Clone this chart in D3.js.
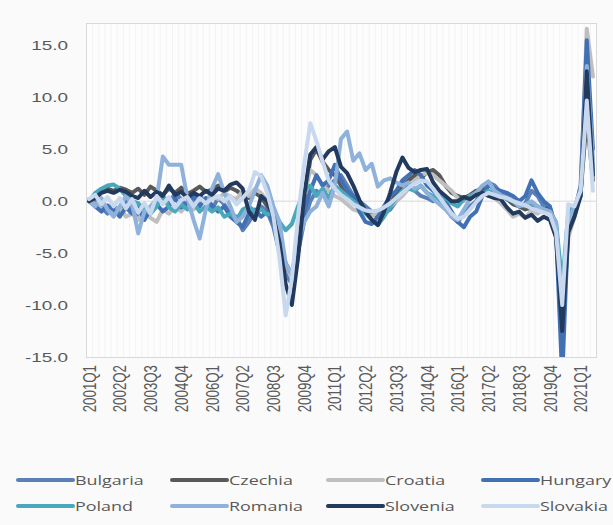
<!DOCTYPE html>
<html>
<head>
<meta charset="utf-8">
<script src="https://cdn.jsdelivr.net/npm/d3@7"></script>
<style>
  html, body { margin: 0; padding: 0; background: #fafafa; }
  svg { display: block; font-family: "Open Sans", "Liberation Sans", sans-serif; }
</style>
</head>
<body>
<svg id="chart" width="613" height="525"></svg>
<script>
const quarters = [
  "2001Q1","2001Q2","2001Q3","2001Q4","2002Q1","2002Q2","2002Q3","2002Q4",
  "2003Q1","2003Q2","2003Q3","2003Q4","2004Q1","2004Q2","2004Q3","2004Q4",
  "2005Q1","2005Q2","2005Q3","2005Q4","2006Q1","2006Q2","2006Q3","2006Q4",
  "2007Q1","2007Q2","2007Q3","2007Q4","2008Q1","2008Q2","2008Q3","2008Q4",
  "2009Q1","2009Q2","2009Q3","2009Q4","2010Q1","2010Q2","2010Q3","2010Q4",
  "2011Q1","2011Q2","2011Q3","2011Q4","2012Q1","2012Q2","2012Q3","2012Q4",
  "2013Q1","2013Q2","2013Q3","2013Q4","2014Q1","2014Q2","2014Q3","2014Q4",
  "2015Q1","2015Q2","2015Q3","2015Q4","2016Q1","2016Q2","2016Q3","2016Q4",
  "2017Q1","2017Q2","2017Q3","2017Q4","2018Q1","2018Q2","2018Q3","2018Q4",
  "2019Q1","2019Q2","2019Q3","2019Q4","2020Q1","2020Q2","2020Q3","2020Q4",
  "2021Q1","2021Q2","2021Q3"
];
const xTickLabels = ["2001Q1","2002Q2","2003Q3","2004Q4","2006Q1","2007Q2","2008Q3","2009Q4",
  "2011Q1","2012Q2","2013Q3","2014Q4","2016Q1","2017Q2","2018Q3","2019Q4","2021Q1"];
const yTicks = [15, 10, 5, 0, -5, -10, -15];

const bulgaria = [
  0.2, 0.0, -0.6, -1.2,  -0.5, -1.0, 0.2, -0.8,  -1.5, -0.5, -1.0, 0.0,  0.5, -0.3, 0.8, 0.2,
  -0.5, 0.2, 0.5, 0.0,  -0.8, 0.3, -0.3, -1.2,  -1.5, -2.8, -2.0, -1.0,  -0.5, -1.0, -2.5, -5.0,
  -7.0, -8.0, -5.0, -2.0,  0.0, 1.0, 0.5, 1.5,  2.0, 2.5, 1.5, 0.5,  0.0, -0.5, -1.0, -1.5,
  -1.2, -0.8, 0.0, 0.8,  1.5, 1.0, 0.5, 0.3,  0.0, 0.5, -0.5, -1.5,  -2.0, -1.2, -0.5, 0.0,
  1.0, 1.8, 1.5, 0.8,  0.5, 0.0, -0.5, -0.2,  1.0, 0.5, -0.5, -1.0,  -2.5, -14.0, -1.5, -1.0,
  0.5, 14.0, 3.0
];
const czechia = [
  0.1, 0.5, 1.0, 1.2,  1.0, 1.3, 1.1, 0.8,  1.2, 0.6, 1.4, 1.0,  0.6, 1.2, 0.8, 1.3,
  0.7, 1.0, 1.4, 0.9,  1.1, 1.5, 0.9, 1.3,  1.0, 0.6, 0.3, 0.8,  0.4, -0.5, -1.2, -3.5,
  -6.5, -7.0, -4.0, 0.0,  4.0, 5.0, 3.8, 3.0,  2.5, 1.5, 0.8, 0.0,  -0.5, -1.0, -1.2, -1.5,
  -1.2, -0.3, 0.8, 1.5,  2.0, 2.5, 2.2, 2.8,  3.0, 2.5, 1.5, 0.8,  0.5, 0.3, 0.6, 1.0,
  1.2, 0.8, 0.5, 0.6,  0.2, -0.3, -0.5, -0.8,  -0.6, -1.0, -0.8, -0.6,  -2.5, -9.5, -2.0, -1.0,
  0.8, 8.0, 2.0
];
const croatia = [
  0.0, -0.3, -0.8, -0.5,  -1.0, -0.6, -1.5, -1.2,  -1.8, -1.0, -1.6, -2.0,  -0.8, -1.2, -0.5, -1.0,
  -0.3, -0.8, -0.2, 0.3,  0.5, 0.2, 0.8, 0.4,  0.2, 1.0, 0.5, 1.2,  0.8, 0.0, -0.8, -3.0,
  -6.0, -7.5, -4.5, 0.5,  3.0, 2.5, 1.5, 1.0,  0.5, 0.2, -0.3, -0.8,  -1.0, -1.2, -1.5, -1.0,
  -0.8, -0.5, 0.0, 0.5,  1.2, 2.0, 2.5, 2.7,  2.5, 2.0, 1.5, 1.0,  0.3, 0.0, 0.5, 0.8,
  0.6, 1.0, 0.3, -0.2,  -0.8, -1.5, -1.2, -1.6,  -0.9, -1.2, -0.8, -1.0,  -3.0, -13.0, -3.5, -1.5,
  1.0, 16.6, 12.0
];
const hungary = [
  0.0, -0.5, -1.0, -0.4,  -0.8, -1.5, -0.6, -1.2,  -0.5, -1.8, -0.8, -0.3,  -1.0, -0.5, 0.3, -0.6,
  -0.2, 0.5, -0.5, 0.3,  -0.4, -1.0, -0.5, -1.5,  -2.0, -2.5, -1.2, -0.8,  -1.5, -1.0, -2.0, -4.0,
  -6.0, -7.0, -5.0, -1.0,  1.0, 2.5, 1.5, 2.0,  3.5, 2.0, 1.0, 0.5,  -1.0, -2.0, -2.2, -1.5,
  -0.5, 0.5, 1.0, 2.0,  2.5, 3.0, 2.5, 1.5,  1.0, 0.5, 0.0, -1.0,  -2.0, -2.5, -1.5, -1.0,
  0.5, 1.5, 1.2, 1.0,  0.8, 0.5, 0.0, 0.5,  2.0, 0.8, 0.0, -0.5,  -3.0, -17.0, -2.0, -1.0,
  1.5, 15.5, 5.0
];
const poland = [
  0.0, 0.8, 1.2, 1.5,  1.6, 1.2, 0.5, 0.0,  -0.2, -0.8, -1.2, -0.5,  0.5, -0.6, -1.0, -0.3,
  -0.8, -0.2, -1.0, -0.5,  -1.0, -0.6, -1.5, -1.2,  -1.8, -0.8, -0.5, -1.0,  -0.8, -1.3, -1.0, -2.0,
  -2.8, -2.2, -0.5, 1.0,  1.5, 0.5, 1.2, 0.3,  1.5, 1.0, 0.5, 0.0,  -0.5, -1.2, -1.8, -2.3,
  -1.5, -0.5, 0.3, 1.0,  1.2, 1.0, 1.5, 0.8,  0.5, 0.0, 0.3, -0.2,  -0.5, 0.2, 0.5, 0.8,
  0.6, 1.0, 0.8, 0.5,  0.2, 0.0, -0.3, -0.5,  -0.2, -0.5, -0.8, -1.0,  -2.0, -8.0, -1.0, -0.5,
  0.5, 11.0, 2.5
];
const romania = [
  0.0, -0.5, 0.3, -0.8,  -1.5, -0.5, 0.5, -0.3,  -3.1, -1.0, -0.5, 0.2,  4.3, 3.5, 3.5, 3.5,
  0.3, -1.8, -3.6, -0.8,  1.2, 2.6, 0.8, -0.5,  -2.0, -1.5, -0.5, 1.0,  2.5, 1.5, -0.5, -2.0,
  -6.0, -7.0, -4.0, -2.0,  -1.0, -0.5, 0.8, -0.5,  1.5, 6.0, 6.7, 3.9,  4.6, 3.0, 3.6, 1.4,
  2.0, 2.2, 1.8, 1.5,  1.8, 1.2, 1.5, 0.8,  0.2, -0.3, -0.8, -1.5,  -1.8, -0.8, 0.2, 0.8,
  1.5, 1.9, 1.0, 0.6,  0.3, 0.0, -0.5, -0.3,  0.0, -0.5, -0.8, -1.0,  -2.0, -11.0, -2.0, -0.5,
  1.0, 13.0, 4.0
];
const slovenia = [
  0.0, 0.3, 0.8, 1.0,  0.8, 1.1, 0.9, 0.5,  0.3, 1.0, 0.4, 0.9,  0.5, 1.5, 0.6, 0.9,
  0.3, 0.8, 0.5, 1.0,  0.6, 1.2, 1.0, 1.6,  1.8, 1.2, -1.0, -1.8,  0.5, 0.0, -1.5, -4.0,
  -8.0, -10.0, -5.5, 0.5,  4.5, 5.2, 4.0, 4.8,  5.2, 3.3, 2.7, 1.5,  0.1, -1.0, -1.8, -2.3,
  -1.0, 0.8, 2.8, 4.2,  3.2, 2.8, 3.0, 3.1,  1.8, 1.0, 0.5, 0.0,  0.0, 0.4, 0.2, 0.6,
  0.8, 0.5, 0.3, 0.2,  -0.6, -1.2, -1.0, -1.6,  -1.3, -1.9, -1.5, -1.8,  -3.5, -12.5, -3.0, -1.5,
  0.5, 12.5, 2.5
];
const slovakia = [
  0.2, 0.6, -0.3, 0.4,  -0.5, 0.3, -0.7, 0.2,  -1.1, -0.2, -1.2, 0.5,  -0.3, 0.4, -0.6, 0.1,
  0.4, -0.5, 0.3, -0.2,  0.2, 0.5, 0.0, 0.5,  -0.3, 0.3, 1.0, 2.8,  2.4, 0.8, -1.5, -5.5,
  -11.0, -7.5, -1.5, 3.5,  7.5, 5.8, 3.8, 2.0,  1.2, 0.6, 0.2, -0.3,  -0.6, -0.9, -1.0, -0.9,
  -0.6, -0.2, 0.3, 0.8,  1.3, 1.7, 2.0, 1.9,  1.2, 0.4, -0.4, -1.2,  -1.7, -1.5, -0.8, -0.1,
  0.5, 0.8, 0.6, 0.4,  0.3, 0.0, -0.2, -0.4,  -0.7, -0.9, -1.1, -1.3,  -3.0, -10.0, -0.3, -0.5,
  1.0, 9.7, 1.0
];

const seriesNames = ["Bulgaria","Czechia","Croatia","Hungary","Poland","Romania","Slovenia","Slovakia"];
const seriesValues = [bulgaria, czechia, croatia, hungary, poland, romania, slovenia, slovakia];
const seriesColors = ["#5a80b8","#595959","#bfbfbf","#4170b5","#4aa8bd","#8eb2dc","#223a5e","#c8d8ee"];

const STRETCH = 1.42;       // reference text is horizontally widened
const LEGEND_STRETCH = 1.35;
const svg = d3.select("#chart");
const plot = { left: 86, right: 596, top: 23, bottom: 357 };

const x = d3.scaleBand().domain(quarters).range([plot.left, plot.right]).padding(0);
const y = d3.scaleLinear().domain([-15, 17.15]).range([plot.bottom, plot.top]);
const cx = q => x(q) + x.bandwidth() / 2;

svg.append("rect")
  .attr("x", plot.left).attr("y", plot.top)
  .attr("width", plot.right - plot.left).attr("height", plot.bottom - plot.top)
  .attr("fill", "#fdfdfd");

svg.append("g").selectAll("line").data(quarters).join("line")
  .attr("x1", d => x(d) + 0.5).attr("x2", d => x(d) + 0.5)
  .attr("y1", plot.top).attr("y2", plot.bottom)
  .attr("stroke", "#f3f3f3").attr("stroke-width", 1);

svg.append("line")
  .attr("x1", plot.left).attr("x2", plot.right)
  .attr("y1", y(0)).attr("y2", y(0))
  .attr("stroke", "#d9d9d9").attr("stroke-width", 1);

svg.append("rect")
  .attr("x", plot.left + 0.5).attr("y", plot.top + 0.5)
  .attr("width", plot.right - plot.left).attr("height", plot.bottom - plot.top)
  .attr("fill", "none").attr("stroke", "#d9d9d9").attr("stroke-width", 1);

// y axis
const yAxis = d3.axisLeft(y).tickValues(yTicks).tickFormat(d => d.toFixed(1)).tickSize(0).tickPadding(18);
const yg = svg.append("g").attr("transform", `translate(${plot.left},0)`).call(yAxis);
yg.select(".domain").remove();
yg.selectAll("text")
  .attr("fill", "#595959").style("font-size", "13.3px")
  .attr("x", 0)
  .attr("transform", `translate(-18,0) scale(${STRETCH},1)`);

// x axis
const xAxis = d3.axisBottom(x).tickValues(xTickLabels).tickSize(0).tickPadding(0);
const xg = svg.append("g").attr("transform", `translate(0,${plot.bottom})`).call(xAxis);
xg.select(".domain").remove();
xg.selectAll("text")
  .attr("fill", "#595959").style("font-size", "13.3px")
  .attr("transform", `scale(${STRETCH},1) rotate(-90)`)
  .attr("text-anchor", "end")
  .attr("x", -8).attr("y", 0).attr("dy", "0.35em");

svg.append("clipPath").attr("id", "clip").append("rect")
  .attr("x", plot.left).attr("y", plot.top)
  .attr("width", plot.right - plot.left).attr("height", plot.bottom - plot.top);

const line = d3.line().x((d, i) => cx(quarters[i])).y(d => y(d)).curve(d3.curveLinear);

const lg = svg.append("g").attr("clip-path", "url(#clip)");
seriesValues.forEach((vals, k) => {
  lg.append("path")
    .datum(vals)
    .attr("d", line)
    .attr("fill", "none")
    .attr("stroke", seriesColors[k])
    .attr("stroke-width", 4)
    .attr("stroke-linejoin", "round")
    .attr("stroke-linecap", "round");
});

// legend
const legX = [18, 172, 328, 483];
const legY = [480, 506];
const legend = svg.append("g");
seriesNames.forEach((name, k) => {
  const col = k % 4, row = Math.floor(k / 4);
  const gx = legX[col], gy = legY[row];
  legend.append("line")
    .attr("x1", gx).attr("x2", gx + 55).attr("y1", gy).attr("y2", gy)
    .attr("stroke", seriesColors[k]).attr("stroke-width", 4).attr("stroke-linecap", "round");
  legend.append("text")
    .attr("x", 0).attr("y", 0).attr("dy", "0.35em")
    .attr("transform", `translate(${gx + 57},${gy}) scale(${LEGEND_STRETCH},1)`)
    .attr("fill", "#595959").style("font-size", "13.3px")
    .text(name);
});
</script>
</body>
</html>
